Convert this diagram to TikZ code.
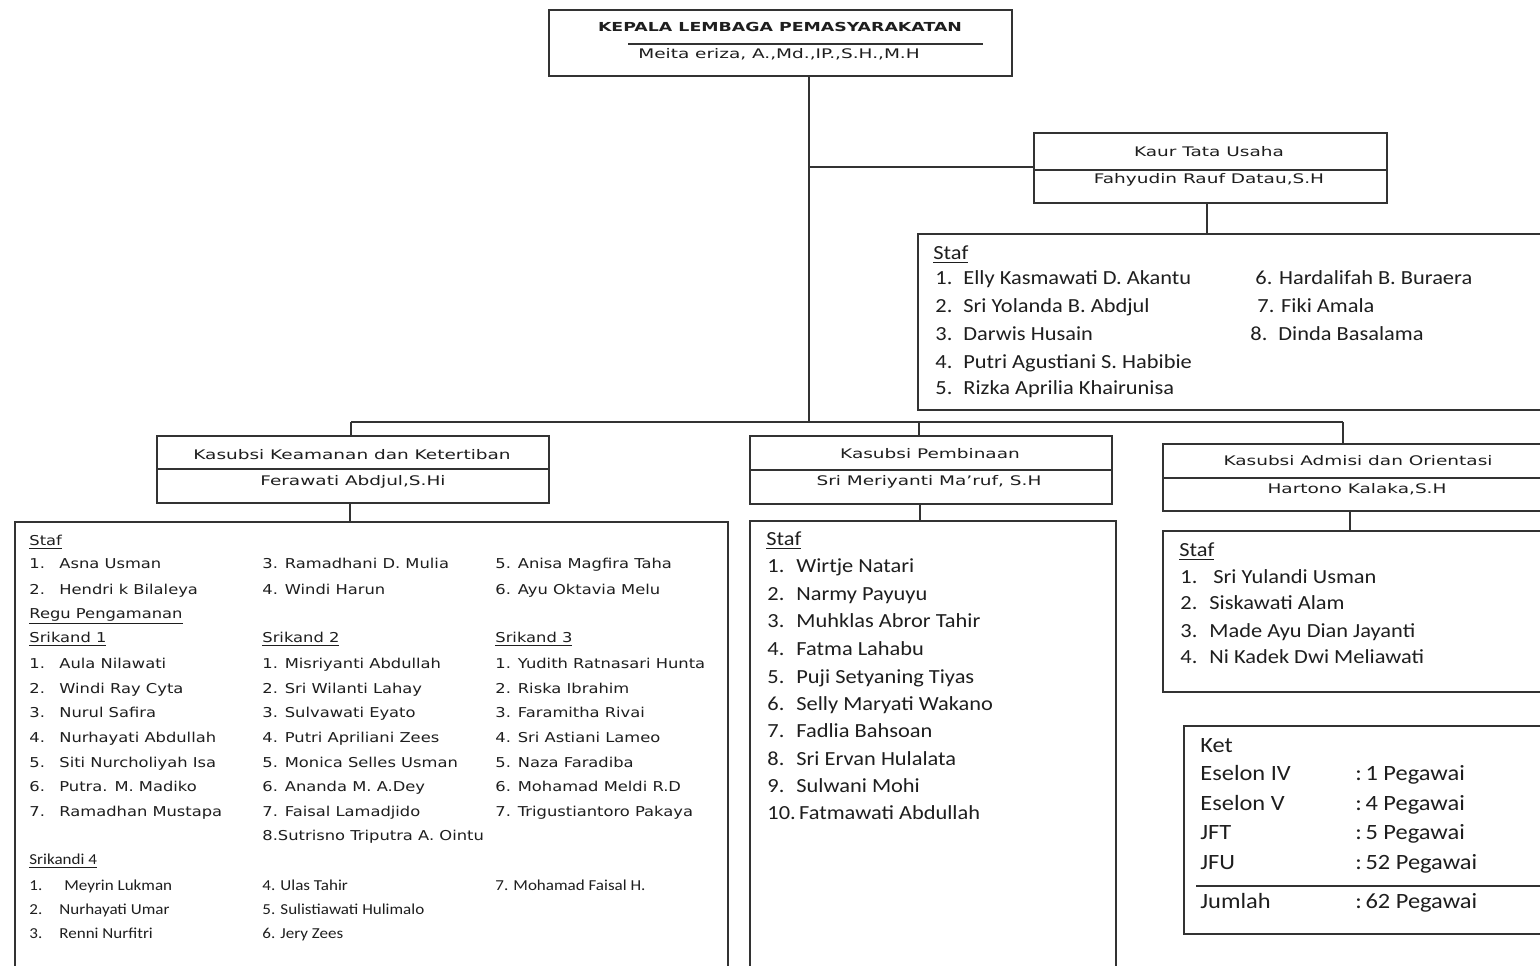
\documentclass[tikz,border=0pt]{standalone}
\usepackage{fontspec}
\setmainfont{Carlito}
\newfontfamily\calf[FakeStretch=1.12]{Carlito}
\newfontfamily\tahS[FakeStretch=1.4]{DejaVu Sans}
\newfontfamily\tahL[FakeStretch=1.2]{DejaVu Sans}
\usetikzlibrary{fit}
\definecolor{lc}{HTML}{333333}
\definecolor{tc}{HTML}{1E1E1E}
\newcounter{itm}
\newcommand\li[3][calt]{\stepcounter{itm}\node[#1] (t\arabic{itm}) at (#2) {#3};}
\newcommand\nb[2]{\makebox[#1][l]{#2}}
\tikzset{
  box/.style={draw=lc, line width=1pt, inner sep=0pt},
  con/.style={draw=lc, line width=1pt},
  calt/.style={font=\calf\fontsize{10}{12}\selectfont, text=tc, inner sep=0pt, anchor=west, text height=6.4pt, text depth=0pt},
  cals/.style={font=\calf\fontsize{7.6}{9}\selectfont, text=tc, inner sep=0pt, anchor=west, text height=4.9pt, text depth=0pt},
  tahl/.style={font=\tahL\fontsize{6.8}{8}\selectfont, text=tc, inner sep=0pt, anchor=west, text height=5pt, text depth=0pt},
  ttl/.style={font=\tahS\fontsize{6.6}{8}\selectfont, text=tc, inner sep=0pt, text height=4.8pt, text depth=0pt},
  ket/.style={font=\calf\fontsize{10.9}{13}\selectfont, text=tc, inner sep=0pt, anchor=west, text height=7pt, text depth=0pt}
}
\begin{document}
\begin{tikzpicture}[x=0.5pt,y=-0.5pt]
\useasboundingbox (0,0) rectangle (1540,965);
\clip (0,0) rectangle (1540,965);
\fill[white] (0,0) rectangle (1540,965);

% ---------- boxes ----------
\node[box, fit={(549,10)(1012,76)}] (kepala) {};
\node[box, fit={(1034,133)(1387,203)}] (kaur) {};
\node[box, fit={(918,234)(1570,410)}] (kaurstaf) {};
\node[box, fit={(157,436)(549,503)}] (kam) {};
\node[box, fit={(750,436)(1112,504)}] (pem) {};
\node[box, fit={(1163,444)(1570,511)}] (adm) {};
\node[box, fit={(15,522)(728,990)}] (kamstaf) {};
\node[box, fit={(750,521)(1116,990)}] (pemstaf) {};
\node[box, fit={(1163,531)(1570,692)}] (admstaf) {};
\node[box, fit={(1184,726)(1570,934)}] (ket) {};

% dividers inside boxes
\draw[con] (kaur.west |- 0,170) -- (kaur.east |- 0,170);
\draw[con] (kam.west |- 0,469) -- (kam.east |- 0,469);
\draw[con] (pem.west |- 0,470) -- (pem.east |- 0,470);
\draw[con] (adm.west |- 0,478) -- (adm.east |- 0,478);
\draw[con] (628,44) -- (983,44);
\draw[con] (1196,886) -- (1570,886);

% ---------- connectors ----------
\coordinate (trunk) at (809,76);
\coordinate (kaurj) at (809,167);
\coordinate (busc) at (809,422);
\coordinate (busl) at (351,422);
\coordinate (busm) at (919,422);
\coordinate (busr) at (1343,422);
\draw[con] (trunk) -- (busc);
\draw[con] (kaurj) -- (kaur.west |- kaurj);
\draw[con] (busl) -- (busr);
\draw[con] (busl) -- (busl |- kam.north);
\draw[con] (busm) -- (busm |- pem.north);
\draw[con] (busr) -- (busr |- adm.north);
\coordinate (kaurd) at (1207,203);
\draw[con] (kaurd) -- (kaurd |- kaurstaf.north);
\coordinate (kamd) at (350,503);
\draw[con] (kamd) -- (kamd |- kamstaf.north);
\coordinate (pemd) at (920,504);
\draw[con] (pemd) -- (pemd |- pemstaf.north);
\coordinate (admd) at (1350,511);
\draw[con] (admd) -- (admd |- admstaf.north);

% ---------- titles ----------
\node[ttl, font=\tahS\bfseries\fontsize{6.2}{8}\selectfont] (kepalaT) at (780,27) {KEPALA LEMBAGA PEMASYARAKATAN};
\node[ttl] (kepalaN) at (779,54) {Meita eriza, A.,Md.,IP.,S.H.,M.H};
\node[ttl] (kaurT) at (1209,152) {Kaur Tata Usaha};
\node[ttl] (kaurN) at (1209,179) {Fahyudin Rauf Datau,S.H};
\node[ttl] (kamT) at (352,455) {Kasubsi Keamanan dan Ketertiban};
\node[ttl] (kamN) at (353,481) {Ferawati Abdjul,S.Hi};
\node[ttl] (pemT) at (930,454) {Kasubsi Pembinaan};
\node[ttl] (pemN) at (929,481) {Sri Meriyanti Ma’ruf, S.H};
\node[ttl] (admT) at (1358,461) {Kasubsi Admisi dan Orientasi};
\node[ttl] (admN) at (1357,489) {Hartono Kalaka,S.H};

% ---------- Kaur staff ----------
\li{933,253}{\underline{Staf}}
\li{935,278}{\nb{14pt}{1.}Elly Kasmawati D. Akantu}
\li{935,306}{\nb{14pt}{2.}Sri Yolanda B. Abdjul}
\li{935,334}{\nb{14pt}{3.}Darwis Husain}
\li{935,362}{\nb{14pt}{4.}Putri Agustiani S. Habibie}
\li{935,388}{\nb{14pt}{5.}Rizka Aprilia Khairunisa}
\li{1255,278}{6. Hardalifah B. Buraera}
\li{1257,306}{7. Fiki Amala}
\li{1250,334}{\nb{14pt}{8.}Dinda Basalama}

% ---------- Keamanan staff ----------
\li[tahl]{29,540}{\underline{Staf}}
\li[tahl]{29,563}{\nb{15pt}{1.}Asna Usman}
\li[tahl]{29,589}{\nb{15pt}{2.}Hendri k Bilaleya}
\li[tahl]{262,563}{3. Ramadhani D. Mulia}
\li[tahl]{262,589}{4. Windi Harun}
\li[tahl]{495,563}{5. Anisa Magfira Taha}
\li[tahl]{495,589}{6. Ayu Oktavia Melu}
\li[tahl]{29,613}{\underline{Regu Pengamanan}}
\li[tahl]{29,637}{\underline{Srikand 1}}
\li[tahl]{262,637}{\underline{Srikand 2}}
\li[tahl]{495,637}{\underline{Srikand 3}}
\li[tahl]{29,663}{\nb{15pt}{1.}Aula Nilawati}
\li[tahl]{29,688}{\nb{15pt}{2.}Windi Ray Cyta}
\li[tahl]{29,712}{\nb{15pt}{3.}Nurul Safira}
\li[tahl]{29,737}{\nb{15pt}{4.}Nurhayati Abdullah}
\li[tahl]{29,762}{\nb{15pt}{5.}Siti Nurcholiyah Isa}
\li[tahl]{29,786}{\nb{15pt}{6.}Putra. M. Madiko}
\li[tahl]{29,811}{\nb{15pt}{7.}Ramadhan Mustapa}
\li[tahl]{262,663}{1. Misriyanti Abdullah}
\li[tahl]{262,688}{2. Sri Wilanti Lahay}
\li[tahl]{262,712}{3. Sulvawati Eyato}
\li[tahl]{262,737}{4. Putri Apriliani Zees}
\li[tahl]{262,762}{5. Monica Selles Usman}
\li[tahl]{262,786}{6. Ananda M. A.Dey}
\li[tahl]{262,811}{7. Faisal Lamadjido}
\li[tahl]{262,835}{8.Sutrisno Triputra A. Ointu}
\li[tahl]{495,663}{1. Yudith Ratnasari Hunta}
\li[tahl]{495,688}{2. Riska Ibrahim}
\li[tahl]{495,712}{3. Faramitha Rivai}
\li[tahl]{495,737}{4. Sri Astiani Lameo}
\li[tahl]{495,762}{5. Naza Faradiba}
\li[tahl]{495,786}{6. Mohamad Meldi R.D}
\li[tahl]{495,811}{7. Trigustiantoro Pakaya}
\li[cals]{29,860}{\underline{Srikandi 4}}
\li[cals]{29,886}{\nb{17.5pt}{1.}Meyrin Lukman}
\li[cals]{29,910}{\nb{15pt}{2.}Nurhayati Umar}
\li[cals]{29,934}{\nb{15pt}{3.}Renni Nurfitri}
\li[cals]{262,886}{4. Ulas Tahir}
\li[cals]{262,910}{5. Sulistiawati Hulimalo}
\li[cals]{262,934}{6. Jery Zees}
\li[cals]{495,886}{7. Mohamad Faisal H.}

% ---------- Pembinaan staff ----------
\li{766,539}{\underline{Staf}}
\li{767,566}{\nb{14.5pt}{1.}Wirtje Natari}
\li{767,594}{\nb{14.5pt}{2.}Narmy Payuyu}
\li{767,621}{\nb{14.5pt}{3.}Muhklas Abror Tahir}
\li{767,649}{\nb{14.5pt}{4.}Fatma Lahabu}
\li{767,677}{\nb{14.5pt}{5.}Puji Setyaning Tiyas}
\li{767,704}{\nb{14.5pt}{6.}Selly Maryati Wakano}
\li{767,731}{\nb{14.5pt}{7.}Fadlia Bahsoan}
\li{767,759}{\nb{14.5pt}{8.}Sri Ervan Hulalata}
\li{767,786}{\nb{14.5pt}{9.}Sulwani Mohi}
\li{767,813}{10.\,Fatmawati Abdullah}

% ---------- Admisi staff ----------
\li{1179,550}{\underline{Staf}}
\li{1180,577}{\nb{16.5pt}{1.}Sri Yulandi Usman}
\li{1180,603}{\nb{14.5pt}{2.}Siskawati Alam}
\li{1180,631}{\nb{14.5pt}{3.}Made Ayu Dian Jayanti}
\li{1180,657}{\nb{14.5pt}{4.}Ni Kadek Dwi Meliawati}

% ---------- Ket ----------
\li[ket]{1200,745}{Ket}
\li[ket]{1200,773}{Eselon IV}
\li[ket]{1200,803}{Eselon V}
\li[ket]{1200,832}{JFT}
\li[ket]{1200,862}{JFU}
\li[ket]{1200,901}{Jumlah}
\li[ket]{1355,773}{:\,1 Pegawai}
\li[ket]{1355,803}{:\,4 Pegawai}
\li[ket]{1355,832}{:\,5 Pegawai}
\li[ket]{1355,862}{:\,52 Pegawai}
\li[ket]{1355,901}{:\,62 Pegawai}
\end{tikzpicture}
\end{document}
